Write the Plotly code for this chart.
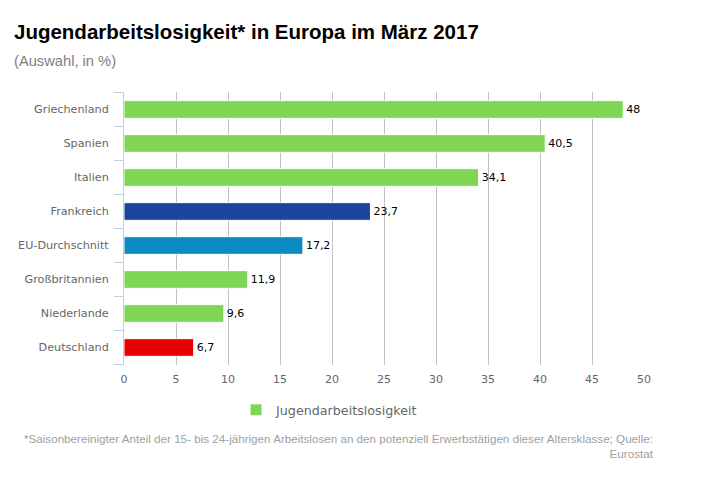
import plotly.graph_objects as go

categories = ['Griechenland', 'Spanien', 'Italien', 'Frankreich', 'EU-Durchschnitt',
              'Großbritannien', 'Niederlande', 'Deutschland']
values = [48, 40.5, 34.1, 23.7, 17.2, 11.9, 9.6, 6.7]
bar_colors = ['#7ed654', '#7ed654', '#7ed654', '#1a459c', '#0a8bc4', '#7ed654', '#7ed654', '#e60000']
value_labels = [str(v).replace('.', ',') for v in values]
x_ticks = [0, 5, 10, 15, 20, 25, 30, 35, 40, 45, 50]

LABEL_FONT = 'DejaVu Sans'
TITLE_FONT = 'Liberation Sans'

trace = go.Bar(x=values, y=categories, orientation='h', name='Jugendarbeitslosigkeit',
               marker=dict(color=bar_colors, line=dict(color='white', width=1)),
               text=value_labels, textposition='outside', cliponaxis=False,
               textfont=dict(family=LABEL_FONT, size=11, color='black'),
               width=0.52, showlegend=True)

# highcharts style ticks sit between the categories
edge_ticks = [dict(type='line', xref='paper', xsizemode='pixel', xanchor=0, x0=-10, x1=0,
                   yref='y', y0=i - 0.5, y1=i - 0.5, line=dict(color='#c0d0e0', width=1))
              for i in range(len(categories) + 1)]

annotations = [
    dict(text='(Auswahl, in %)', xref='paper', yref='paper', x=-0.2145, y=1.112,
         xanchor='left', yanchor='middle', showarrow=False,
         font=dict(family=TITLE_FONT, size=14.7, color='#808080')),
    dict(text='*Saisonbereinigter Anteil der 15- bis 24-jährigen Arbeitslosen an den potenziell '
              'Erwerbstätigen dieser Altersklasse; Quelle:<br>Eurostat',
         xref='paper', yref='paper', x=1.0223, y=-0.2377, xanchor='right', yanchor='top', align='right',
         showarrow=False, font=dict(family=TITLE_FONT, size=11.65, color='#a0a0a0')),
]

# page body adds 8px around the figure, so the figure is 8px smaller than the window
layout = go.Layout(
    width=707, height=475, autosize=False,
    margin=dict(l=115.5, r=70.5, t=84, b=117.5, pad=0),
    paper_bgcolor='white', plot_bgcolor='white',
    title=dict(text='<b>Jugendarbeitslosigkeit* in Europa im März 2017</b>', x=6 / 707, xanchor='left',
               y=1 - 24 / 475, yanchor='middle',
               font=dict(family=TITLE_FONT, size=20.5, color='black')),
    xaxis=dict(range=[0, 50], tickvals=x_ticks, showgrid=True, gridcolor='#c0c0c0', gridwidth=1,
               zeroline=False, showline=False, ticks='', ticklen=0, ticklabelstandoff=6, automargin=False,
               tickfont=dict(family=LABEL_FONT, size=11, color='#666666')),
    yaxis=dict(categoryorder='array', categoryarray=categories, autorange='reversed',
               showline=True, linecolor='#c0d0e0', linewidth=1, showgrid=False, zeroline=False,
               ticks='', ticklabelstandoff=12, automargin=False,
               tickfont=dict(family=LABEL_FONT, size=11.2, color='#666666')),
    legend=dict(orientation='h', x=0.2155, y=-0.11, xanchor='left', yanchor='top',
                font=dict(family=LABEL_FONT, size=12.7, color='#666666')),
    shapes=edge_ticks, annotations=annotations,
    bargap=0.48,
)

fig = go.Figure(data=[trace], layout=layout)
fig.write_html("out.html")
